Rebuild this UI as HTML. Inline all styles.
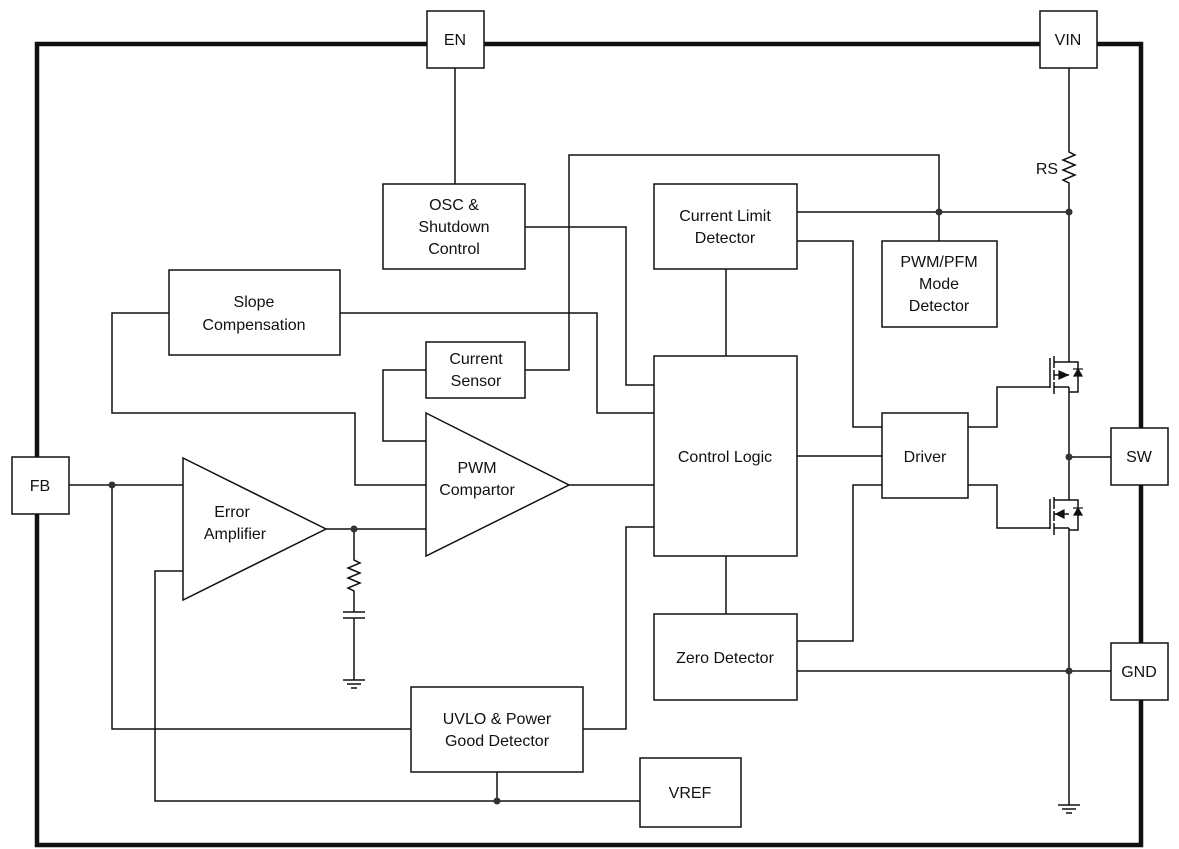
<!DOCTYPE html>
<html><head><meta charset="utf-8"><style>
html,body{margin:0;padding:0;background:#fff}
svg{display:block}
text{font-family:"Liberation Sans",Arial,sans-serif;font-size:16px;fill:#111;text-anchor:middle}
</style></head><body>
<svg width="1179" height="849" viewBox="0 0 1179 849" xmlns="http://www.w3.org/2000/svg">
<g fill="none" stroke="#111" stroke-width="1.5">
<!-- frame -->
<rect x="37" y="44" width="1104" height="801" stroke-width="4.5"/>
</g>
<g fill="#fff" stroke="#111" stroke-width="1.5">
<rect x="427" y="11" width="57" height="57"/>
<rect x="1040" y="11" width="57" height="57"/>
<rect x="12" y="457" width="57" height="57"/>
<rect x="1111" y="428" width="57" height="57"/>
<rect x="1111" y="643" width="57" height="57"/>
</g>
<g fill="none" stroke="#111" stroke-width="1.5">
<!-- wires -->
<path d="M455 68V184"/>
<path d="M525 370H569V155H939V241"/>
<path d="M797 212H1069"/>
<path d="M1069 68V152l6 3-12 5 12 5-12 5 12 5-12 5 6 3V362"/>
<path d="M797 241H853V427H882"/>
<path d="M525 227H626V385H654"/>
<path d="M340 313H597V413H654"/>
<path d="M169 313H112V413H355V485H426"/>
<path d="M426 370H383V441H426"/>
<path d="M569 485H654"/>
<path d="M797 456H882"/>
<path d="M726 269V356"/>
<path d="M726 556V614"/>
<path d="M797 641H853V485H882"/>
<path d="M797 671H1111"/>
<path d="M654 527H626V729H583"/>
<path d="M411 729H112V485"/>
<path d="M69 485H183"/>
<path d="M183 571H155V801H640"/>
<path d="M497 801V772"/>
<path d="M326 529H426"/>
<!-- RC -->
<path d="M354 529V560l6 3-12 5 12 5-12 5 12 5-12 5 6 3V612"/>
<path d="M343 612H365M343 618H365"/>
<path d="M354 618V680M343 680H365M347 684H361M351 688H357"/>
<!-- driver outputs -->
<path d="M968 427H997V387H1050"/>
<path d="M968 485H997V528H1050"/>
<!-- switch column -->
<path d="M1069 387V500"/>
<path d="M1069 457H1111"/>
<path d="M1069 528V805M1058 805H1080M1062 809H1076M1066 813H1072"/>
<!-- high side MOSFET -->
<path d="M1050 358V388"/>
<path d="M1054 356V368M1054 370V380M1054 382V394"/>
<path d="M1054 362H1069M1054 375H1069M1054 387H1069"/>
<path d="M1069 362H1078V392H1069"/>
<!-- low side MOSFET -->
<path d="M1050 499V529"/>
<path d="M1054 497V509M1054 511V521M1054 523V535"/>
<path d="M1054 500H1069M1054 514H1069M1054 528H1069"/>
<path d="M1069 500H1078V530H1069"/>
</g>
<g fill="#111" stroke="#111" stroke-width="1.2">
<path d="M1068 375L1059 371V379Z"/>
<path d="M1078 369L1074 376H1082Z"/><path d="M1073 369H1083"/>
<path d="M1056 514L1064 510V518Z"/>
<path d="M1078 508L1074 515H1082Z"/><path d="M1073 508H1083"/>
</g>
<g fill="#333">
<circle cx="939" cy="212" r="3.5"/><circle cx="1069" cy="212" r="3.5"/>
<circle cx="1069" cy="457" r="3.5"/><circle cx="1069" cy="671" r="3.5"/>
<circle cx="112" cy="485" r="3.5"/><circle cx="354" cy="529" r="3.5"/>
<circle cx="497" cy="801" r="3.5"/>
</g>
<g fill="#fff" stroke="#111" stroke-width="1.5">
<rect x="383" y="184" width="142" height="85"/>
<rect x="654" y="184" width="143" height="85"/>
<rect x="882" y="241" width="115" height="86"/>
<rect x="169" y="270" width="171" height="85"/>
<rect x="426" y="342" width="99" height="56"/>
<rect x="654" y="356" width="143" height="200"/>
<rect x="882" y="413" width="86" height="85"/>
<rect x="654" y="614" width="143" height="86"/>
<rect x="411" y="687" width="172" height="85"/>
<rect x="640" y="758" width="101" height="69"/>
<path d="M426 413L569 485L426 556Z"/>
<path d="M183 458L326 529L183 600Z"/>
</g>
<text x="455" y="45">EN</text>
<text x="1068" y="45">VIN</text>
<text x="40" y="491">FB</text>
<text x="1139" y="462">SW</text>
<text x="1139" y="677">GND</text>
<text x="1047" y="174">RS</text>
<text x="454" y="210">OSC &amp;</text><text x="454" y="232">Shutdown</text><text x="454" y="254">Control</text>
<text x="725" y="221">Current Limit</text><text x="725" y="243">Detector</text>
<text x="939" y="267">PWM/PFM</text><text x="939" y="289">Mode</text><text x="939" y="311">Detector</text>
<text x="254" y="307">Slope</text><text x="254" y="330">Compensation</text>
<text x="476" y="364">Current</text><text x="476" y="386">Sensor</text>
<text x="725" y="462">Control Logic</text>
<text x="925" y="462">Driver</text>
<text x="725" y="663">Zero Detector</text>
<text x="497" y="724">UVLO &amp; Power</text><text x="497" y="746">Good Detector</text>
<text x="690" y="798">VREF</text>
<text x="477" y="473">PWM</text><text x="477" y="495">Compartor</text>
<text x="232" y="517">Error</text><text x="235" y="539">Amplifier</text>
</svg>
</body></html>
